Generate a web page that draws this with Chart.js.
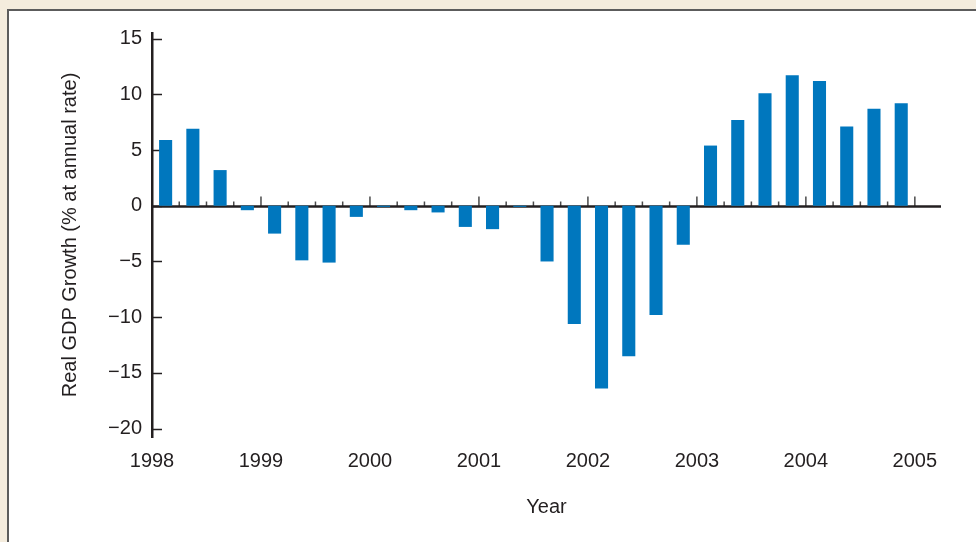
<!DOCTYPE html>
<html>
<head>
<meta charset="utf-8">
<script src="https://cdn.jsdelivr.net/npm/chart.js@4.4.1/dist/chart.umd.min.js"></script>
<style>
  html, body { margin: 0; padding: 0; overflow: hidden; }
  body { width: 976px; height: 542px; background: #f4ecdd; position: relative; }
  #panel {
    position: absolute; left: 7px; top: 9px; width: 1000px; height: 560px;
    background: #fff; border-left: 2px solid #5c5c5c; border-top: 2px solid #5c5c5c;
  }
  #gdpChart { position: absolute; left: 0; top: 0; }
</style>
</head>
<body>
<div id="panel"></div>
<canvas id="gdpChart" width="976" height="542"></canvas>
<script>
// quarterly real GDP growth, % at annual rate
var quarters = [
  '1998Q1', '1998Q2', '1998Q3', '1998Q4',
  '1999Q1', '1999Q2', '1999Q3', '1999Q4',
  '2000Q1', '2000Q2', '2000Q3', '2000Q4',
  '2001Q1', '2001Q2', '2001Q3', '2001Q4',
  '2002Q1', '2002Q2', '2002Q3', '2002Q4',
  '2003Q1', '2003Q2', '2003Q3', '2003Q4',
  '2004Q1', '2004Q2', '2004Q3', '2004Q4'
];
var growth = [
  5.9, 6.9, 3.2, -0.4,
  -2.5, -4.9, -5.1, -1.0,
  -0.1, -0.4, -0.6, -1.9,
  -2.1, -0.1, -5.0, -10.6,
  -16.4, -13.5, -9.8, -3.5,
  5.4, 7.7, 10.1, 11.7,
  11.2, 7.1, 8.7, 9.2
];
var years = [1998, 1999, 2000, 2001, 2002, 2003, 2004, 2005];
var yTicks = [-20, -15, -10, -5, 0, 5, 10, 15];

var FONT = 'Liberation Sans, Arial, Helvetica, sans-serif';
var INK = '#231f20';

// start of a quarter as a decimal year
function quarterStart(q) {
  return parseInt(q.slice(0, 4), 10) + (parseInt(q.slice(5), 10) - 1) / 4;
}

var points = quarters.map(function (q, i) {
  return { x: quarterStart(q) + 0.125, y: growth[i] };
});

// zero line with quarter ticks, and inward ticks on the y axis
var axisMarks = {
  id: 'axisMarks',
  beforeDatasetsDraw: function (chart) {
    var ctx = chart.ctx, area = chart.chartArea;
    var x = chart.scales.x, y = chart.scales.y;
    var y0 = Math.round(y.getPixelForValue(0)) + 0.5;
    ctx.save();
    ctx.strokeStyle = '#4a4a4a';
    ctx.lineWidth = 1.5;
    quarters.forEach(function (q) {
      var v = quarterStart(q);
      if (v === years[0]) return;
      var px = x.getPixelForValue(v);
      var len = (v % 1 === 0) ? 10 : 5;
      ctx.beginPath();
      ctx.moveTo(px, y0);
      ctx.lineTo(px, y0 - len);
      ctx.stroke();
    });
    var last = x.getPixelForValue(years[years.length - 1]);
    ctx.beginPath();
    ctx.moveTo(last, y0);
    ctx.lineTo(last, y0 - 10);
    ctx.stroke();

    ctx.strokeStyle = INK;
    yTicks.forEach(function (v) {
      var py = Math.round(y.getPixelForValue(v)) + 0.5;
      ctx.beginPath();
      ctx.moveTo(area.left, py);
      ctx.lineTo(area.left + 10, py);
      ctx.stroke();
    });

    ctx.lineWidth = 2.5;
    ctx.beginPath();
    ctx.moveTo(area.left, y0);
    ctx.lineTo(area.right, y0);
    ctx.stroke();
    ctx.restore();
  }
};

var ctx = document.getElementById('gdpChart').getContext('2d');
var gdpChart = new Chart(ctx, {
  type: 'bar',
  data: {
    datasets: [{
      label: 'Real GDP Growth',
      data: points,
      backgroundColor: '#0077be',
      borderWidth: 0,
      categoryPercentage: 1,
      barPercentage: 0.48
    }]
  },
  options: {
    responsive: false,
    animation: false,
    devicePixelRatio: 1,
    layout: { padding: { left: 54, right: 35, top: 33, bottom: 19 } },
    plugins: {
      legend: { display: false },
      tooltip: { enabled: false }
    },
    scales: {
      x: {
        type: 'linear',
        offset: false,
        min: 1998,
        max: 2005.24,
        afterBuildTicks: function (scale) {
          scale.ticks = years.map(function (v) { return { value: v }; });
        },
        afterFit: function (scale) { scale.height = 86; },
        grid: { display: false },
        border: { display: false },
        ticks: {
          color: INK,
          font: { family: FONT, size: 20 },
          padding: 4,
          maxRotation: 0,
          callback: function (v) { return String(v); }
        },
        title: {
          display: true,
          text: 'Year',
          color: INK,
          font: { family: FONT, size: 20 }
        }
      },
      y: {
        min: -20.75,
        max: 15.5,
        afterBuildTicks: function (scale) {
          scale.ticks = yTicks.map(function (v) { return { value: v }; });
        },
        afterFit: function (scale) { scale.width = 98; },
        grid: { display: false },
        border: { display: true, color: INK, width: 2.5 },
        ticks: {
          color: INK,
          font: { family: FONT, size: 20 },
          padding: 2,
          callback: function (v) { return String(v).replace('-', '\u2212'); }
        },
        title: {
          display: true,
          text: 'Real GDP Growth (% at annual rate)',
          color: INK,
          font: { family: FONT, size: 20 }
        }
      }
    }
  },
  plugins: [axisMarks]
});
</script>
</body>
</html>
